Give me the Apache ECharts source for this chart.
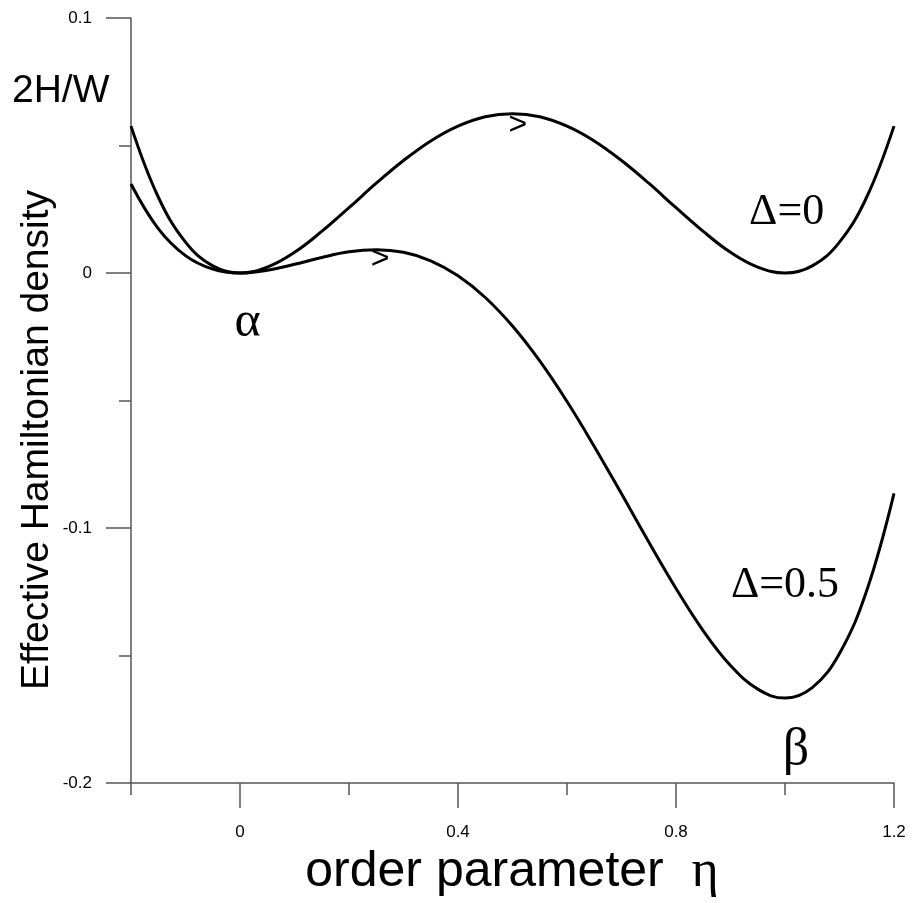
<!DOCTYPE html>
<html>
<head>
<meta charset="utf-8">
<script src="https://cdn.jsdelivr.net/npm/echarts@6/dist/echarts.min.js"></script>
<style>
html,body{margin:0;padding:0;background:#fff;}
#chart{width:912px;height:903px;}
</style>
</head>
<body>
<div id="chart"></div>
<script>
// order parameter eta
const eta = [-0.2,-0.15,-0.1,-0.05,0,0.05,0.1,0.15,0.2,0.25,0.3,0.35,0.4,0.45,0.5,0.55,0.6,0.65,0.7,0.75,0.8,0.85,0.9,0.95,1.0,1.05,1.1,1.15,1.2];
// 2H/W for Delta = 0
const hDelta0 = [0.0576,0.0298,0.0121,0.0028,0,0.0023,0.0081,0.0163,0.0256,0.0352,0.0441,0.0518,0.0576,0.0613,0.0625,0.0613,0.0576,0.0518,0.0441,0.0352,0.0256,0.0163,0.0081,0.0023,0,0.0028,0.0121,0.0298,0.0576];
// 2H/W for Delta = 0.5
const hDelta05 = [0.0349,0.0174,0.0068,0.0015,0,0.0011,0.0034,0.0061,0.0083,0.0091,0.0081,0.0048,-0.0011,-0.0096,-0.0208,-0.0345,-0.0504,-0.0680,-0.0866,-0.1055,-0.1237,-0.1403,-0.1539,-0.1632,-0.1667,-0.1626,-0.1492,-0.1245,-0.0864];
const xMajorTicks = [0,0.4,0.8,1.2];
const yMajorTicks = [-0.2,-0.1,0,0.1];
const xTickLabels = ['0','0.4','0.8','1.2'];
const yTickLabels = ['-0.2','-0.1','0','0.1'];

const SANS = 'Liberation Sans';
const SERIF = 'Liberation Serif';
const AX = '#555';

const chart = echarts.init(document.getElementById('chart'), null, {renderer:'canvas'});

function pairs(ys){ return eta.map((x,i)=>[x, ys[i]]); }

const option = {
  animation:false,
  backgroundColor:'#fff',
  grid:{left:131,right:18,top:18,bottom:120,containLabel:false},
  xAxis:[
    {type:'value',min:-0.2,max:1.2,interval:0.2,
     axisLine:{show:true,onZero:false,lineStyle:{color:AX,width:1.5}},
     axisTick:{show:true,length:12,lineStyle:{color:AX,width:1.5}},
     axisLabel:{show:false},splitLine:{show:false}},
    {type:'value',min:-0.2,max:1.2,position:'bottom',
     axisLine:{show:false,onZero:false},
     axisTick:{show:true,length:25,customValues:xMajorTicks,lineStyle:{color:AX,width:1.5}},
     axisLabel:{show:true,customValues:xMajorTicks,margin:41,fontFamily:SANS,fontSize:17,color:'#000',
       formatter:v=>{const i=xMajorTicks.findIndex(t=>Math.abs(t-v)<1e-9);return i>=0?xTickLabels[i]:'';}},
     splitLine:{show:false}}
  ],
  yAxis:[
    {type:'value',min:-0.2,max:0.1,interval:0.05,
     axisLine:{show:true,onZero:false,lineStyle:{color:AX,width:1.5}},
     axisTick:{show:true,length:12,lineStyle:{color:AX,width:1.5}},
     axisLabel:{show:false},splitLine:{show:false}},
    {type:'value',min:-0.2,max:0.1,position:'left',
     axisLine:{show:false,onZero:false},
     axisTick:{show:true,length:25,customValues:yMajorTicks,lineStyle:{color:AX,width:1.5}},
     axisLabel:{show:true,customValues:yMajorTicks,margin:39,fontFamily:SANS,fontSize:17,color:'#000',
       formatter:v=>{const i=yMajorTicks.findIndex(t=>Math.abs(t-v)<1e-9);return i>=0?yTickLabels[i]:'';}},
     splitLine:{show:false}}
  ],
  series:[
    {type:'line',name:'Δ=0',xAxisIndex:0,yAxisIndex:0,data:pairs(hDelta0),smooth:0.4,showSymbol:false,
     lineStyle:{color:'#000',width:3}},
    {type:'line',name:'Δ=0.5',xAxisIndex:0,yAxisIndex:0,data:pairs(hDelta05),smooth:0.4,showSymbol:false,
     lineStyle:{color:'#000',width:3}}
  ]
};
chart.setOption(option);

// annotations anchored in data coordinates
const notes = [
  {text:'Δ=0', at:[1.003,0.0239], font:SERIF, size:44},
  {text:'Δ=0.5', at:[1.0,-0.1224], font:SERIF, size:44},
  {text:'α', at:[0.0138,-0.0195], font:SERIF, size:50},
  {text:'β', at:[1.02,-0.187], font:SERIF, size:52},
  {text:'>', at:[0.51,0.058], font:SANS, size:32},
  {text:'>', at:[0.257,0.0053], font:SANS, size:32}
];
const graphics = notes.map(n=>{
  const p = chart.convertToPixel({xAxisIndex:0,yAxisIndex:0}, n.at);
  return {type:'text',x:p[0],y:p[1],style:{text:n.text,fontFamily:n.font,fontSize:n.size,fill:'#000',
    textAlign:'center',textVerticalAlign:'middle'}};
});
graphics.push({type:'text',x:12,y:91,style:{text:'2H/W',fontFamily:SANS,fontSize:39,fill:'#000',textAlign:'left',textVerticalAlign:'middle'}});
graphics.push({type:'text',x:37,y:440,rotation:Math.PI/2,style:{text:'Effective Hamiltonian density',fontFamily:SANS,fontSize:39,fill:'#000',textAlign:'center',textVerticalAlign:'middle'}});
graphics.push({type:'text',x:512,y:872,style:{
  text:'{a|order parameter  }{b|η}',
  rich:{a:{fontFamily:SANS,fontSize:50,fill:'#000'},b:{fontFamily:SERIF,fontSize:52,fill:'#000'}},
  textAlign:'center',textVerticalAlign:'middle'}});
chart.setOption({graphic:graphics});
</script>
</body>
</html>
